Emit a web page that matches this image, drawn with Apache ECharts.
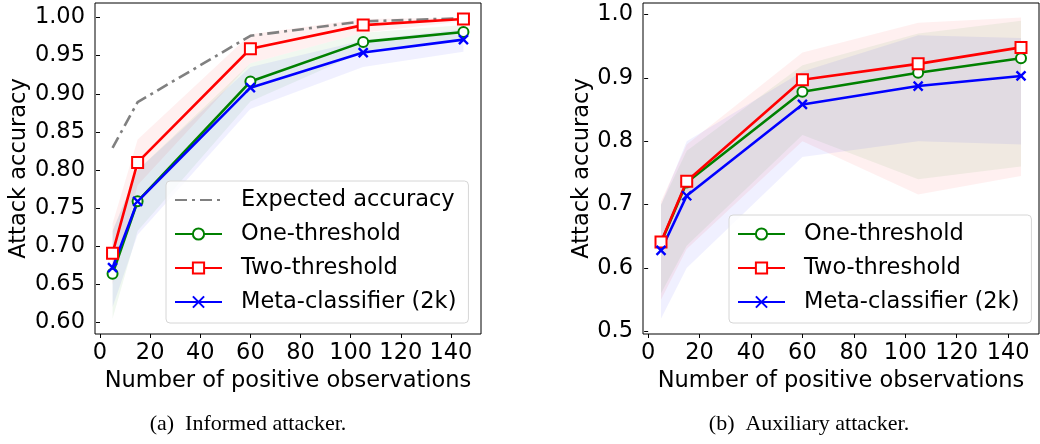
<!DOCTYPE html>
<html>
<head>
<meta charset="utf-8">
<script src="https://cdn.jsdelivr.net/npm/echarts@6/dist/echarts.min.js"></script>
<style>
  html, body { margin: 0; padding: 0; background: #fff; }
  #chart { width: 1040px; height: 444px; }
</style>
</head>
<body>
<div id="chart"></div>
<script>
//number of positive observations
const obs = [5, 15, 60, 105, 145];

//(a) informed attacker - mean accuracies
const expectedA = [0.829, 0.889, 0.976, 0.995, 0.999];
const oneA = [0.664, 0.759, 0.916, 0.968, 0.981];
const twoA = [0.691, 0.810, 0.959, 0.990, 0.998];
const metaA = [0.672, 0.759, 0.908, 0.954, 0.971];

//(a) shaded bands (low / high)
const oneALo = [0.605, 0.720, 0.890, 0.955, 0.970];
const oneAHi = [0.720, 0.800, 0.940, 0.980, 0.990];
const twoALo = [0.650, 0.780, 0.940, 0.980, 0.995];
const twoAHi = [0.730, 0.840, 0.978, 0.998, 1.000];
const metaALo = [0.620, 0.715, 0.880, 0.935, 0.955];
const metaAHi = [0.720, 0.800, 0.935, 0.970, 0.985];

//(b) auxiliary attacker - mean accuracies
const oneB = [0.640, 0.735, 0.878, 0.908, 0.931];
const twoB = [0.641, 0.737, 0.897, 0.922, 0.948];
const metaB = [0.628, 0.714, 0.858, 0.887, 0.903];

//(b) shaded bands (low / high)
const oneBLo = [0.560, 0.635, 0.810, 0.740, 0.760];
const oneBHi = [0.700, 0.785, 0.920, 0.970, 0.990];
const twoBLo = [0.550, 0.630, 0.800, 0.716, 0.745];
const twoBHi = [0.705, 0.795, 0.940, 0.987, 0.995];
const metaBLo = [0.520, 0.600, 0.775, 0.800, 0.795];
const metaBHi = [0.700, 0.800, 0.910, 0.967, 0.963];

//tick labels
const xTicks = [0, 20, 40, 60, 80, 100, 120, 140];
const yTicksA = [0.60, 0.65, 0.70, 0.75, 0.80, 0.85, 0.90, 0.95, 1.00];
const yTicksB = [0.5, 0.6, 0.7, 0.8, 0.9, 1.0];

const names = ["Expected accuracy", "One-threshold", "Two-threshold", "Meta-classifier (2k)"];
const font = "DejaVu Sans";
const fs = 22.5;
const xPath = "path://M0,0L10,10M10,0L0,10";

const pairs = (ys) => obs.map((x, i) => [x, ys[i]]);

//shaded std band drawn as a polygon through the axis scales
function band(idx, lo, hi, color) {
    return {
        type: "custom",
        xAxisIndex: idx,
        yAxisIndex: idx,
        silent: true,
        z: 1,
        data: [[obs[0], lo[0]]],
        renderItem: (params, api) => {
            const top = obs.map((x, i) => api.coord([x, hi[i]]));
            const bot = obs.map((x, i) => api.coord([x, lo[i]])).reverse();
            return {
                type: "polygon",
                shape: { points: top.concat(bot) },
                style: { fill: color, opacity: 0.06 }
            };
        }
    };
}

function line(idx, name, ys, color, symbol, size, extra) {
    return Object.assign({
        type: "line",
        name: name,
        xAxisIndex: idx,
        yAxisIndex: idx,
        data: pairs(ys),
        symbol: symbol,
        symbolSize: size,
        z: 3,
        lineStyle: { color: color, width: 2.6 },
        itemStyle: { color: color, borderColor: color, borderWidth: 2.4 }
    }, extra || {});
}

function xAxis(idx) {
    return {
        type: "value",
        gridIndex: idx,
        min: -2,
        max: 152,
        name: "Number of positive observations",
        nameLocation: "middle",
        nameGap: 34,
        nameTextStyle: { fontFamily: font, fontSize: fs, color: "#000" },
        axisLine: { show: false },
        splitLine: { show: false },
        axisTick: { customValues: xTicks, length: 4, lineStyle: { color: "#000" } },
        axisLabel: { customValues: xTicks, margin: 8, fontFamily: font, fontSize: fs, color: "#000" }
    };
}

function yAxis(idx, min, max, ticks, digits, gap) {
    return {
        type: "value",
        gridIndex: idx,
        min: min,
        max: max,
        name: "Attack accuracy",
        nameLocation: "middle",
        nameGap: gap,
        nameTextStyle: { fontFamily: font, fontSize: fs, color: "#000" },
        axisLine: { show: false },
        splitLine: { show: false },
        axisTick: { show: true, customValues: ticks, length: 4, lineStyle: { color: "#000" } },
        axisLabel: {
            customValues: ticks, margin: 10, fontFamily: font, fontSize: fs, color: "#000",
            formatter: v => v.toFixed(digits)
        }
    };
}

function legend(data, left, top, width) {
    return {
        data: data,
        orient: "vertical",
        left: left,
        top: top,
        width: width,
        itemWidth: 47,
        itemHeight: 14,
        itemGap: 10,
        padding: [7, 12, 9, 8],
        borderColor: "#d6d6d6",
        borderWidth: 1,
        borderRadius: 4,
        backgroundColor: "rgba(255,255,255,0.8)",
        textStyle: { fontFamily: font, fontSize: fs, lineHeight: 24, color: "#000", padding: [0, 0, 0, 14] }
    };
}

const chart = echarts.init(document.getElementById("chart"), null, { renderer: "canvas" });

const option = {
    animation: false,
    backgroundColor: "#fff",
    grid: [
        { left: 95, top: 3, width: 386, height: 331, show: true, borderColor: "#000", borderWidth: 1, backgroundColor: "transparent", z: 5 },
        { left: 643, top: 3, width: 396, height: 331, show: true, borderColor: "#000", borderWidth: 1, backgroundColor: "transparent", z: 5 }
    ],
    xAxis: [xAxis(0), xAxis(1)],
    yAxis: [
        yAxis(0, 0.585, 1.019, yTicksA, 2, 64),
        yAxis(1, 0.496, 1.018, yTicksB, 1, 48)
    ],
    legend: [
        legend([{ name: names[0], itemStyle: { opacity: 0 } }].concat(names.slice(1)), 166, 181, 303),
        legend(names.slice(1), 729, 215, 304)
    ],
    graphic: [
        { type: "text", x: 248, y: 424, style: { text: "(a)  Informed attacker.", font: "22px 'Liberation Serif'", fill: "#000", textAlign: "center", textVerticalAlign: "middle" } },
        { type: "text", x: 809, y: 424, style: { text: "(b)  Auxiliary attacker.", font: "22px 'Liberation Serif'", fill: "#000", textAlign: "center", textVerticalAlign: "middle" } }
    ],
    series: [
        band(0, twoALo, twoAHi, "#ff0000"),
        band(0, oneALo, oneAHi, "#008000"),
        band(0, metaALo, metaAHi, "#0000ff"),
        line(0, names[0], expectedA, "#808080", "none", 0, {
            lineStyle: { color: "#808080", width: 2.6, type: [12, 5, 3, 5] },
            itemStyle: { color: "#808080" }
        }),
        line(0, names[1], oneA, "#008000", "emptyCircle", 10),
        line(0, names[2], twoA, "#ff0000", "emptyRect", 11),
        line(0, names[3], metaA, "#0000ff", xPath, 9),

        band(1, twoBLo, twoBHi, "#ff0000"),
        band(1, oneBLo, oneBHi, "#008000"),
        band(1, metaBLo, metaBHi, "#0000ff"),
        line(1, names[1], oneB, "#008000", "emptyCircle", 10),
        line(1, names[2], twoB, "#ff0000", "emptyRect", 11),
        line(1, names[3], metaB, "#0000ff", xPath, 9)
    ]
};

chart.setOption(option);
</script>
</body>
</html>
